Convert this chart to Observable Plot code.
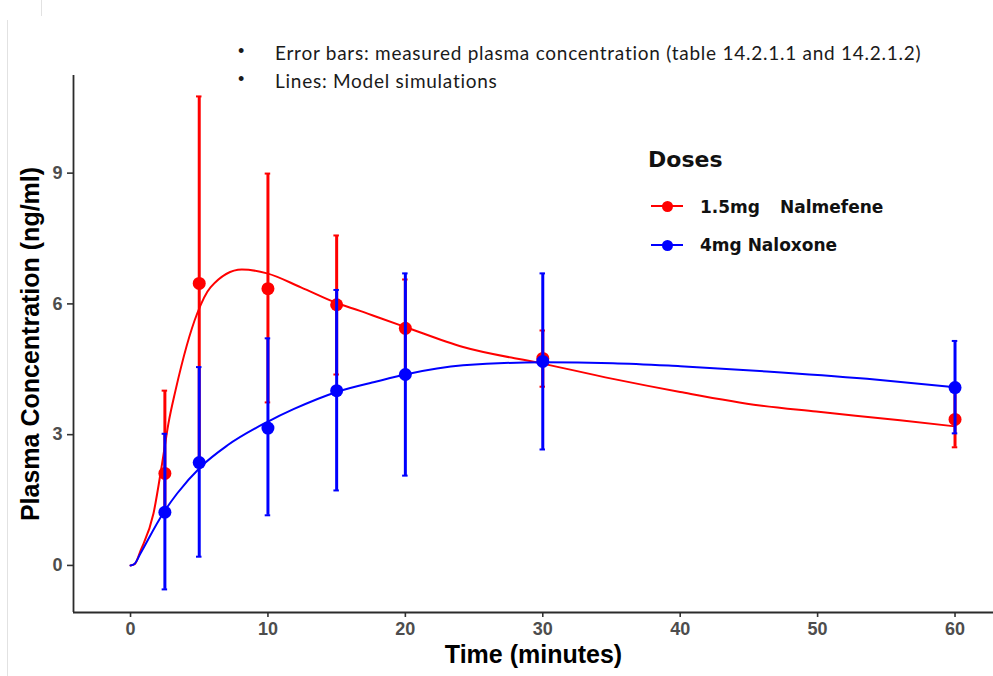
<!DOCTYPE html>
<html>
<head>
<meta charset="utf-8">
<script src="https://cdn.jsdelivr.net/npm/d3@7"></script>
<script src="https://cdn.jsdelivr.net/npm/@observablehq/plot@0.6"></script>
<style>
  html, body { margin: 0; padding: 0; background: #fff; }
  #wrap { position: relative; width: 993px; height: 676px; overflow: hidden; background: #fff; }
  #wrap svg { position: absolute; left: 0; top: 0; }
  .note { position: absolute; font-family: Lato, "Open Sans", sans-serif; font-size: 19px; color: #1a1a1a; white-space: nowrap; line-height: 1; }
  .bullet { position: absolute; font-family: "Liberation Sans", Arial, sans-serif; font-size: 18px; color: #1a1a1a; line-height: 1; }
  .legtitle { position: absolute; font-family: "DejaVu Sans", sans-serif; font-weight: bold; font-size: 22px; color: #111; line-height: 1; }
  .legtext { position: absolute; font-family: "DejaVu Sans", sans-serif; font-weight: bold; font-size: 17px; color: #111; white-space: nowrap; line-height: 1; }
  .legline { position: absolute; height: 2px; width: 32px; }
  .legdot { position: absolute; width: 11px; height: 11px; border-radius: 50%; }
  .edge { position: absolute; background: #e2e2e2; width: 1px; }
</style>
</head>
<body>
<div id="wrap"></div>
<script>
// ---- data ----
const times = [2.5, 5, 10, 15, 20, 30, 60];
// 1.5 mg Nalmefene: measured mean, lower and upper error bar ends
const nalMean = [2.11, 6.47, 6.35, 5.98, 5.44, 4.75, 3.35];
const nalLo   = [1.25, 2.30, 3.74, 4.38, 4.32, 4.10, 2.71];
const nalHi   = [4.01, 10.76, 8.99, 7.57, 6.56, 5.39, 3.99];
// 4 mg Naloxone: measured mean, lower and upper error bar ends
const naxMean = [1.22, 2.36, 3.15, 4.01, 4.38, 4.68, 4.08];
const naxLo   = [-0.55, 0.20, 1.15, 1.72, 2.06, 2.66, 3.03];
const naxHi   = [3.02, 4.55, 5.21, 6.32, 6.70, 6.70, 5.15];
// model simulation lines
const nalSimT = [0, 0.3, 0.73, 1.67, 2.3, 2.76, 3.27, 4.85, 5.82, 8.1, 9.94, 12.4, 15, 16.7, 18.2, 20, 24.2, 30, 35.1, 40, 45.8, 49.9, 56, 60];
const nalSimC = [0, 0.03, 0.34, 1.19, 2.34, 3.26, 4.01, 5.78, 6.38, 6.79, 6.70, 6.38, 6.02, 5.84, 5.67, 5.47, 5.01, 4.63, 4.28, 3.98, 3.67, 3.53, 3.33, 3.19];
const naxSimT = [0, 0.3, 0.73, 2.42, 3.39, 5.1, 7.03, 9.94, 11.9, 15, 17.9, 20, 24.2, 30, 35.1, 40, 46.3, 53.6, 60];
const naxSimC = [0, 0.04, 0.28, 1.22, 1.65, 2.26, 2.75, 3.29, 3.59, 3.98, 4.22, 4.38, 4.59, 4.66, 4.64, 4.57, 4.45, 4.28, 4.09];
const xTicks = [0, 10, 20, 30, 40, 50, 60];
const yTicks = [0, 3, 6, 9];
const doses = ["1.5mg", "4mg Naloxone"];
const doseColors = ["#ff0000", "#0000ff"];
const notes = ["Error bars: measured plasma concentration (table 14.2.1.1 and 14.2.1.2)", "Lines: Model simulations"];
const xTitle = "Time (minutes)";
const yTitle = "Plasma Concentration (ng/ml)";

// ---- tables built from the arrays ----
const nalPts = times.map((t, i) => ({t, c: nalMean[i], lo: nalLo[i], hi: nalHi[i]}));
const naxPts = times.map((t, i) => ({t, c: naxMean[i], lo: naxLo[i], hi: naxHi[i]}));
const nalSim = nalSimT.map((t, i) => ({t, c: nalSimC[i]}));
const naxSim = naxSimT.map((t, i) => ({t, c: naxSimC[i]}));
const capW = 0.2;
const nalCaps = nalPts.flatMap(d => [{t: d.t, c: d.lo}, {t: d.t, c: d.hi}]);
const naxCaps = naxPts.flatMap(d => [{t: d.t, c: d.lo}, {t: d.t, c: d.hi}]);

const xDom = [-4.15, 62.8];
const yDom = [-1.08, 11.24];
const red = doseColors[0], blue = doseColors[1];
const font = "Liberation Sans, Arial, sans-serif";

const chart = Plot.plot({
  width: 993,
  height: 676,
  marginLeft: 73,
  marginRight: 0,
  marginTop: 75,
  marginBottom: 64,
  style: {background: "transparent"},
  x: {domain: xDom},
  y: {domain: yDom},
  marks: [
    Plot.axisX({ticks: xTicks, tickSize: 5, tickPadding: 5, fontSize: 18, fontWeight: "bold", fill: "#4d4d4d", stroke: "#333", strokeWidth: 1.6, label: null, fontFamily: font}),
    Plot.axisY({ticks: yTicks, tickSize: 6, tickPadding: 5, fontSize: 18, fontWeight: "bold", fill: "#4d4d4d", stroke: "#333", strokeWidth: 1.6, label: null, fontFamily: font}),
    Plot.ruleX([xDom[0]], {stroke: "#2b2b2b", strokeWidth: 1.8}),
    Plot.ruleY([yDom[0]], {stroke: "#2b2b2b", strokeWidth: 1.8}),
    // Nalmefene
    Plot.line(nalSim, {x: "t", y: "c", stroke: red, strokeWidth: 2, curve: "monotone-x"}),
    Plot.ruleX(nalPts, {x: "t", y1: "lo", y2: "hi", stroke: red, strokeWidth: 3}),
    Plot.ruleY(nalCaps, {y: "c", x1: d => d.t - capW, x2: d => d.t + capW, stroke: red, strokeWidth: 2}),
    Plot.dot(nalPts, {x: "t", y: "c", r: 6.5, fill: red}),
    // Naloxone
    Plot.line(naxSim, {x: "t", y: "c", stroke: blue, strokeWidth: 2, curve: "monotone-x"}),
    Plot.ruleX(naxPts, {x: "t", y1: "lo", y2: "hi", stroke: blue, strokeWidth: 3}),
    Plot.ruleY(naxCaps, {y: "c", x1: d => d.t - capW, x2: d => d.t + capW, stroke: blue, strokeWidth: 2}),
    Plot.dot(naxPts, {x: "t", y: "c", r: 6.5, fill: blue}),
    // axis titles
    Plot.text([xTitle], {text: d => d, frameAnchor: "bottom", dy: 50, fontSize: 25, fontWeight: "bold", fill: "#000", fontFamily: font}),
    Plot.text([yTitle], {text: d => d, frameAnchor: "left", textAnchor: "middle", dx: -43, rotate: -90, fontSize: 25, fontWeight: "bold", fill: "#000", fontFamily: font})
  ]
});

const wrap = document.getElementById("wrap");
wrap.appendChild(chart);

function add(cls, css, text) {
  const el = document.createElement("div");
  el.className = cls;
  Object.assign(el.style, css);
  if (text != null) el.textContent = text;
  wrap.appendChild(el);
  return el;
}
// faint page edge lines from the source screenshot
add("edge", {left: "7px", top: "20px", height: "656px"});
add("edge", {left: "41px", top: "0px", height: "16px"});

// notes above the chart
add("bullet", {left: "238px", top: "42px"}, "•");
const n1 = add("note", {left: "275px", top: "43px"}, notes[0]);
add("bullet", {left: "238px", top: "70px"}, "•");
const n2 = add("note", {left: "275px", top: "71px"}, notes[1]);
// fit the first note to the width it has in the source (275 → 921 px)
const target = 646;
const w = n1.getBoundingClientRect().width;
const ls = (target - w) / (notes[0].length - 1);
n1.style.letterSpacing = ls + "px";
n2.style.letterSpacing = ls + "px";

// legend
add("legtitle", {left: "648px", top: "149px"}, "Doses");
add("legline", {left: "651px", top: "205px", background: red});
add("legdot", {left: "662px", top: "200.5px", background: red});
add("legtext", {left: "700px", top: "199px"}, doses[0]);
add("legtext", {left: "780px", top: "199px"}, "Nalmefene");
add("legline", {left: "651px", top: "244px", background: blue});
add("legdot", {left: "662px", top: "239.5px", background: blue});
add("legtext", {left: "700px", top: "237px"}, doses[1]);
</script>
</body>
</html>
